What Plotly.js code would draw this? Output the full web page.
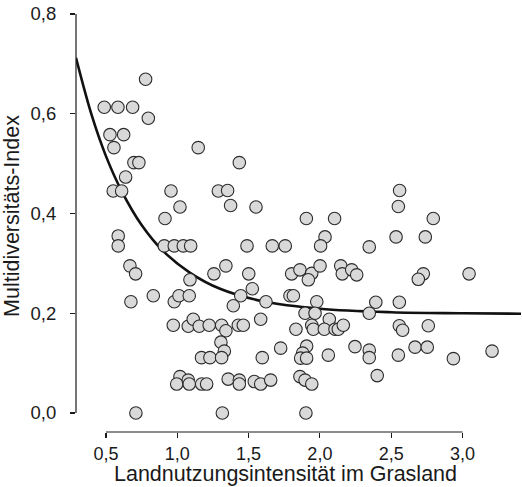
<!DOCTYPE html>
<html>
<head>
<meta charset="utf-8">
<script src="https://cdn.plot.ly/plotly-3.0.1.min.js"></script>
<style>html,body{margin:0;padding:0;background:#fff;}#chart{width:522px;height:487px;}</style>
</head>
<body>
<div id="chart"></div>
<script>
// Observed points: land-use intensity (x) vs multidiversity index (y)
const intensity = [
  0.488,0.584,0.687,0.778,0.797,0.528,0.624,0.556,0.696,0.731,
  0.638,0.551,0.610,0.956,0.914,0.586,0.586,0.909,0.979,1.042,
  1.094,0.668,0.708,0.675,0.832,0.979,1.012,1.084,1.089,0.972,
  0.710,1.019,1.147,1.288,1.435,1.353,1.374,1.552,1.257,1.341,
  1.489,1.666,1.757,1.501,1.526,1.445,1.393,1.622,1.585,1.077,
  1.112,1.154,1.224,1.311,1.341,1.428,1.463,1.306,1.330,1.170,
  1.229,1.311,1.596,1.725,1.019,0.996,1.077,1.084,1.171,1.206,
  1.357,1.435,1.435,1.540,1.585,1.655,1.316,1.902,1.905,2.103,
  2.036,2.005,1.802,1.860,1.943,1.919,2.001,2.146,2.157,2.223,
  2.258,1.790,1.814,1.978,1.896,1.966,2.066,1.832,1.943,1.954,
  2.031,2.106,2.129,2.164,1.907,1.879,1.865,1.907,2.059,2.246,
  1.860,1.896,1.943,2.559,2.550,2.795,2.534,2.739,2.346,2.725,
  2.690,3.046,2.392,2.557,2.346,2.557,2.580,2.760,2.346,2.346,
  2.550,2.667,2.753,2.936,3.207,2.402
];
const multidiversity = [
  0.613,0.613,0.613,0.669,0.591,0.558,0.558,0.532,0.502,0.502,
  0.473,0.445,0.445,0.445,0.390,0.355,0.335,0.335,0.335,0.335,
  0.335,0.295,0.279,0.223,0.235,0.223,0.235,0.235,0.267,0.176,
  0.000,0.413,0.532,0.445,0.502,0.446,0.416,0.413,0.279,0.295,
  0.335,0.335,0.335,0.279,0.249,0.235,0.215,0.223,0.188,0.174,
  0.188,0.174,0.176,0.176,0.165,0.176,0.176,0.142,0.124,0.111,
  0.111,0.111,0.111,0.130,0.073,0.058,0.066,0.058,0.058,0.058,
  0.068,0.066,0.058,0.063,0.058,0.066,0.000,0.000,0.390,0.390,
  0.353,0.335,0.279,0.287,0.280,0.267,0.295,0.295,0.279,0.287,
  0.277,0.235,0.235,0.223,0.200,0.200,0.188,0.168,0.176,0.168,
  0.168,0.168,0.168,0.176,0.134,0.120,0.110,0.110,0.116,0.133,
  0.073,0.066,0.058,0.446,0.414,0.390,0.353,0.353,0.333,0.279,
  0.268,0.279,0.222,0.222,0.200,0.175,0.166,0.175,0.126,0.111,
  0.116,0.132,0.132,0.109,0.124,0.075
];
// Fitted curve
const curveX = [0.29,0.40,0.50,0.61,0.75,0.90,1.09,1.30,1.60,2.00,2.50,3.00,3.45];
const curveY = [0.712,0.597,0.515,0.445,0.377,0.325,0.281,0.249,0.224,0.209,0.202,0.200,0.199];

const xTicks = [0.5,1.0,1.5,2.0,2.5,3.0];
const yTicks = [0.0,0.2,0.4,0.6,0.8];
const xTitle = 'Landnutzungsintensität im Grasland';
const yTitle = 'Multidiversitäts-Index';

const font = 'Liberation Sans, Arial, Helvetica, sans-serif';
const ink = '#1a1a1a';

const traces = [
  {
    x: curveX, y: curveY, mode: 'lines', type: 'scatter',
    line: {color: '#111', width: 2.6, shape: 'spline', smoothing: 1},
    hoverinfo: 'skip', showlegend: false
  },
  {
    x: intensity, y: multidiversity, mode: 'markers', type: 'scatter',
    marker: {size: 12.5, color: '#d9d9d9', line: {color: '#2b2b2b', width: 1.1}},
    showlegend: false
  }
];

const layout = {
  width: 522, height: 487,
  margin: {l: 76, r: 1, t: 0, b: 55, pad: 0},
  paper_bgcolor: '#fff', plot_bgcolor: '#fff',
  separators: ',.',
  font: {family: font, color: ink, size: 18},
  showlegend: false,
  xaxis: {
    range: [0.29, 3.41], tickvals: xTicks, tickformat: '.1f',
    showgrid: false, zeroline: false, showline: false,
    ticks: 'outside', ticklen: 5, tickwidth: 1.2, tickcolor: ink,
    tickfont: {family: font, size: 18, color: ink},
    fixedrange: true
  },
  yaxis: {
    range: [-0.0381, 0.828], tickvals: yTicks, tickformat: '.1f',
    showgrid: false, zeroline: false, showline: false,
    ticks: 'outside', ticklen: 5, tickwidth: 1.2, tickcolor: ink,
    ticklabelstandoff: 10,
    tickfont: {family: font, size: 18.5, color: ink},
    title: {text: yTitle, font: {family: font, size: 21.5, color: ink}, standoff: 6},
    fixedrange: true
  },
  annotations: [
    {text: xTitle, xref: 'paper', yref: 'paper', x: 0.4697, y: -0.1273,
     xanchor: 'center', yanchor: 'bottom', showarrow: false, borderpad: 0,
     font: {family: font, size: 21.5, color: ink}}
  ],
  shapes: [
    {type: 'line', xref: 'x', yref: 'paper', x0: xTicks[0], x1: xTicks[xTicks.length-1], y0: 0, y1: 0, line: {color: ink, width: 1.2}},
    {type: 'line', xref: 'paper', yref: 'y', x0: 0, x1: 0, y0: yTicks[0], y1: yTicks[yTicks.length-1], line: {color: ink, width: 1.2}}
  ]
};

Plotly.newPlot('chart', traces, layout, {displayModeBar: false, staticPlot: true});
</script>
</body>
</html>
